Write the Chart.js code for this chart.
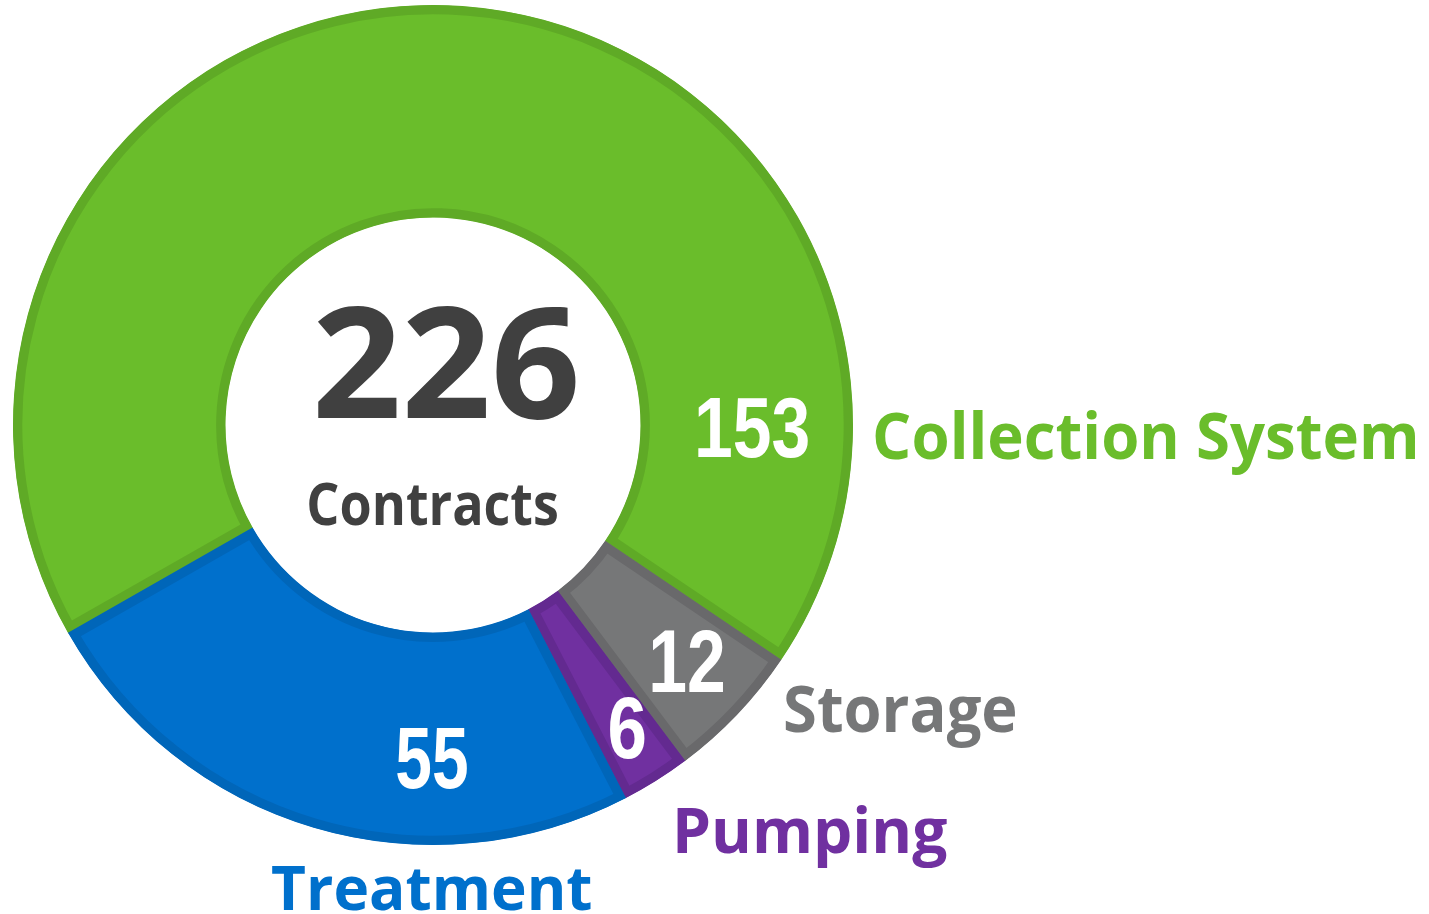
<!DOCTYPE html>
<html>
<head>
<meta charset="utf-8">
<script src="https://cdn.jsdelivr.net/npm/chart.js@4"></script>
<style>
  html, body { margin: 0; padding: 0; background: #ffffff; overflow: hidden; }
  canvas { display: block; }
</style>
</head>
<body>
<canvas id="chart" width="1429" height="914"></canvas>
<script>
// data
const categories = ["Collection System", "Storage", "Pumping", "Treatment"];
const contracts = [153, 12, 6, 55];
const centerLabel = "Contracts";

const fillColors = ["#6abd2b", "#767778", "#7030a0", "#0070cc"];
const borderColors = ["#5faa26", "#69696b", "#632a90", "#0066b9"];
const textDark = "#404040";

// where the numbers sit inside the ring (canvas angle in degrees, radius in px)
const valueSpots = [
    { angle: 0.4, r: 320, w: 110, h: 60 },
    { angle: 42.8, r: 347, w: 71, h: 62 },
    { angle: 57.3, r: 360, w: 35, h: 61 },
    { angle: 90.2, r: 333, w: 70, h: 60 },
];
// category names, offset from the ring centre to the left end of the baseline
const nameSpots = [
    { dx: 442, dy: 34, w: 540, h: 46 },
    { dx: 352, dy: 307, w: 230, h: 46 },
    { dx: 244, dy: 428, w: 270, h: 45 },
    { dx: -161, dy: 485, w: 319, h: 44 },
];

// draws text so that its ink box has the given width and cap height
function inkText(ctx, text, left, baseline, capH, width, family, color, capRef) {
    ctx.save();
    ctx.font = "bold 100px " + family;
    const ref = ctx.measureText(capRef || text);
    const size = (100 * capH) / ref.actualBoundingBoxAscent;
    ctx.font = "bold " + size + "px " + family;
    ctx.textAlign = "left";
    ctx.textBaseline = "alphabetic";
    const m = ctx.measureText(text);
    const inkW = m.actualBoundingBoxLeft + m.actualBoundingBoxRight;
    ctx.translate(left, baseline);
    ctx.scale(width / inkW, 1);
    ctx.fillStyle = color;
    ctx.fillText(text, m.actualBoundingBoxLeft, 0);
    ctx.restore();
}

const ringLabels = {
    id: "ringLabels",
    afterDraw(chart) {
        const ctx = chart.ctx;
        const arcs = chart.getDatasetMeta(0).data;
        const cx = arcs[0].x;
        const cy = arcs[0].y;

        contracts.forEach((v, i) => {
            const s = valueSpots[i];
            const a = (s.angle * Math.PI) / 180;
            const x = cx + Math.cos(a) * s.r;
            const y = cy + Math.sin(a) * s.r;
            inkText(ctx, String(v), x - s.w / 2, y + s.h / 2, s.h, s.w,
                '"Liberation Sans", Arial, sans-serif', "#ffffff");
        });

        categories.forEach((name, i) => {
            const s = nameSpots[i];
            inkText(ctx, name, cx + s.dx, cy + s.dy, s.h, s.w,
                '"Open Sans", sans-serif', fillColors[i], "H");
        });

        const total = contracts.reduce((a, b) => a + b, 0);
        inkText(ctx, String(total), cx - 116, cy - 7, 113, 259,
            '"Open Sans", sans-serif', textDark);
        inkText(ctx, centerLabel, cx - 124, cy + 100, 42, 248,
            '"Open Sans", sans-serif', textDark, "H");
    },
};

function build() {
    new Chart(document.getElementById("chart"), {
        type: "doughnut",
        data: {
            labels: categories,
            datasets: [
                {
                    data: contracts,
                    backgroundColor: fillColors,
                    borderColor: borderColors,
                    borderWidth: 9,
                    borderAlign: "inner",
                    hoverOffset: 0,
                },
            ],
        },
        options: {
            responsive: false,
            animation: false,
            rotation: 240.3,
            radius: 420,
            cutout: 210,
            layout: {
                padding: { left: 0, top: 0, right: 563, bottom: 64 },
            },
            plugins: {
                legend: { display: false },
                tooltip: { enabled: false },
            },
        },
        plugins: [ringLabels],
    });
}

Promise.all([
    document.fonts.load('bold 60px "Open Sans"'),
    document.fonts.load('bold 60px "Liberation Sans"'),
]).then(build, build);
</script>
</body>
</html>
